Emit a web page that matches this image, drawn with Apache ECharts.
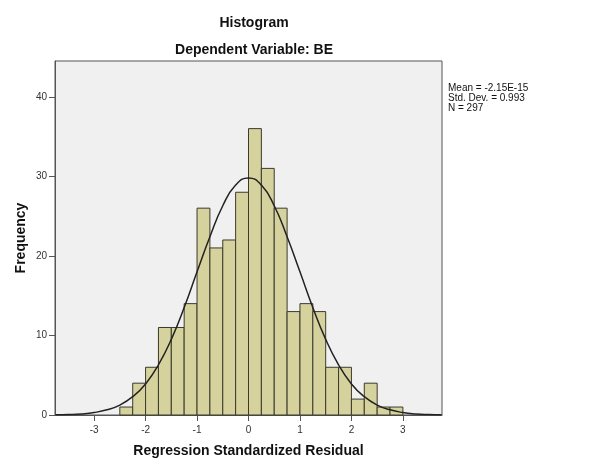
<!DOCTYPE html>
<html>
<head>
<meta charset="utf-8">
<script src="https://cdn.jsdelivr.net/npm/echarts@6.0.0/dist/echarts.min.js"></script>
<style>
  html, body { margin: 0; padding: 0; background: #fff; }
  #chart { width: 590px; height: 472px; }
</style>
</head>
<body>
<div id="chart"></div>
<script>
// bin edges (width 0.25) and counts
const binStart = [-2.5, -2.25, -2.0, -1.75, -1.5, -1.25, -1.0, -0.75, -0.5, -0.25,
                  0, 0.25, 0.5, 0.75, 1.0, 1.25, 1.5, 1.75, 2.0, 2.25, 2.5, 2.75];
const binCount = [1, 4, 6, 11, 11, 14, 26, 21, 22, 28,
                  36, 31, 26, 13, 14, 13, 6, 6, 2, 4, 1, 1];
const binWidth = 0.25;

// normal curve
const curveX = [-3.75, -3.5, -3.25, -3.0, -2.75, -2.5, -2.25, -2.0, -1.75, -1.5, -1.25, -1.0, -0.75, -0.5, -0.25,
                0, 0.25, 0.5, 0.75, 1.0, 1.25, 1.5, 1.75, 2.0, 2.25, 2.5, 2.75, 3.0, 3.25, 3.5, 3.75];
const curveY = [0.02, 0.06, 0.14, 0.31, 0.65, 1.25, 2.3, 3.9, 6.3, 9.5, 13.5, 18.0, 22.4, 26.3, 28.9,
                29.8, 28.9, 26.3, 22.4, 18.0, 13.5, 9.5, 6.3, 3.9, 2.3, 1.25, 0.65, 0.31, 0.14, 0.06, 0.02];

const xTicks = [-3, -2, -1, 0, 1, 2, 3];
const yTicks = [0, 10, 20, 30, 40];
const statsLines = ['Mean = -2.15E-15', 'Std. Dev. = 0.993', 'N = 297'];

const font = 'Liberation Sans, Arial, sans-serif';

const chart = echarts.init(document.querySelector('#chart'));
chart.setOption({
    animation: false,
    title: [
        {
            text: 'Histogram',
            left: 249, top: 11,
            textAlign: 'center',
            textStyle: { fontFamily: font, fontSize: 14, fontWeight: 'bold', color: '#111' }
        },
        {
            text: 'Dependent Variable: BE',
            left: 249, top: 38,
            textAlign: 'center',
            textStyle: { fontFamily: font, fontSize: 14, fontWeight: 'bold', color: '#111' }
        },
        {
            text: statsLines.join('\n'),
            left: 443, top: 78,
            textStyle: { fontFamily: font, fontSize: 10, fontWeight: 'normal', color: '#111', lineHeight: 10 }
        }
    ],
    grid: {
        left: 55,
        top: 61,
        width: 387,
        height: 354,
        show: true,
        backgroundColor: '#f0f0f0',
        borderColor: '#555',
        borderWidth: 1
    },
    xAxis: {
        type: 'value',
        min: -3.76,
        max: 3.76,
        name: 'Regression Standardized Residual',
        nameLocation: 'middle',
        nameGap: 29,
        nameMoveOverlap: false,
        nameTextStyle: { fontFamily: font, fontSize: 14, fontWeight: 'bold', color: '#111' },
        splitLine: { show: false },
        axisLine: { onZero: false, lineStyle: { color: '#555' } },
        axisTick: { customValues: xTicks, length: 6, lineStyle: { color: '#555' } },
        axisLabel: { customValues: xTicks, fontFamily: font, fontSize: 10, color: '#333', margin: 10 }
    },
    yAxis: {
        type: 'value',
        min: 0,
        max: 44.5,
        name: 'Frequency',
        nameLocation: 'middle',
        nameGap: 27,
        nameMoveOverlap: false,
        nameRotate: 90,
        nameTextStyle: { fontFamily: font, fontSize: 14, fontWeight: 'bold', color: '#111' },
        splitLine: { show: false },
        axisLine: { show: true, onZero: false, lineStyle: { color: '#555' } },
        axisTick: { show: true, customValues: yTicks, length: 6, lineStyle: { color: '#555' } },
        axisLabel: { customValues: yTicks, fontFamily: font, fontSize: 10, color: '#333', margin: 8 }
    },
    series: [
        {
            type: 'custom',
            data: binStart.map((x, i) => [x, x + binWidth, binCount[i]]),
            encode: { x: [0, 1], y: 2 },
            renderItem: function (params, api) {
                const p0 = api.coord([api.value(0), api.value(2)]);
                const p1 = api.coord([api.value(1), 0]);
                return {
                    type: 'rect',
                    shape: { x: p0[0], y: p0[1], width: p1[0] - p0[0], height: p1[1] - p0[1] },
                    style: { fill: '#d6d29e', stroke: '#3b3a2c', lineWidth: 1 }
                };
            }
        },
        {
            type: 'line',
            data: curveX.map((x, i) => [x, curveY[i]]),
            smooth: true,
            symbol: 'none',
            lineStyle: { color: '#222', width: 1.5 },
            z: 5
        }
    ]
});
</script>
</body>
</html>
